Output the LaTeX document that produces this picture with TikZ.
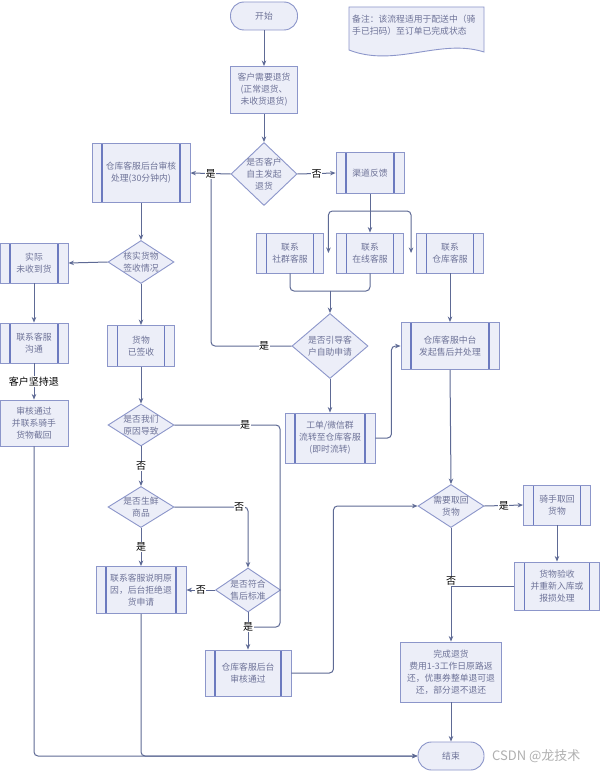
\documentclass[tikz,border=0pt]{standalone}
\usepackage{fontspec}
\setmainfont{Noto Sans CJK SC}
\usetikzlibrary{shapes.geometric,arrows.meta,calc}
\definecolor{fillc}{HTML}{ECEEF8}
\definecolor{borderc}{HTML}{8C96CA}
\definecolor{innerc}{HTML}{6C7ABF}
\definecolor{linec}{HTML}{5E6A95}
\definecolor{txtc}{HTML}{6E7398}
\definecolor{wmc}{HTML}{B0B0B0}
\tikzset{
 x=1pt, y=-1pt,
 base/.style={draw=borderc, fill=fillc, line width=0.9pt, text=txtc, font=\fontsize{8.8}{12}\selectfont, align=center, inner sep=1pt},
 proc/.style 2 args={base, rectangle, minimum width=#1, minimum height=#2},
 subp/.style 2 args={proc={#1}{#2}, path picture={\draw[innerc, line width=1.1pt]
   ([xshift=10pt]path picture bounding box.north west) -- ([xshift=10pt]path picture bounding box.south west)
   ([xshift=-10pt]path picture bounding box.north east) -- ([xshift=-10pt]path picture bounding box.south east);}},
 term/.style 2 args={proc={#1}{#2}, rounded corners=13.5pt},
 dec/.style 2 args={base, diamond, inner sep=0pt, minimum width=#1, minimum height=#2},
 dtext/.style={text=txtc, font=\fontsize{8.8}{12}\selectfont, align=center, inner sep=0pt},
 conn/.style={draw=linec, line width=1pt, rounded corners=4pt},
 arr/.style={conn, -{Stealth[length=5.5pt,width=4.5pt]}},
 lab/.style={fill=white, text=black, font=\fontsize{10}{10}\selectfont, inner sep=0.6pt, rounded corners=0pt},
}
\begin{document}
\begin{tikzpicture}
\fill[white] (0,0) rectangle (600,773);
\useasboundingbox (0,0) rectangle (600,773);

% note
\draw[draw=borderc, fill=fillc, line width=0.9pt] (349,7) -- (484,7) -- (484,52)
  .. controls (440,38) and (395,68) .. (349,50) -- cycle;
\node[anchor=north west, align=left, text=txtc, font=\fontsize{8.8}{12}\selectfont, inner sep=0pt] (note) at (352,15)
  {备注：该流程适用于配送中（骑\\手已扫码）至订单已完成状态};

% nodes
\node[term={67pt}{28pt}] (start) at (264,16) {开始};
\node[proc={67pt}{47pt}] (req) at (264,90) {客户需要退货\\(正常退货、\\未收货退货)};
\node[dec={66pt}{63pt}] (d1) at (264,174) {};
\node[dtext] (d1t) at (d1) {是否客户\\自主发起\\退货};
\node[subp={98pt}{59pt}] (audit) at (141,173) {仓库客服后台审核\\处理(30分钟内)};
\node[subp={68pt}{41pt}] (chan) at (370,173) {渠道反馈};
\node[subp={67pt}{40pt}] (social) at (290,253) {联系\\社群客服};
\node[subp={67pt}{40pt}] (online) at (370,253) {联系\\在线客服};
\node[subp={67pt}{40pt}] (whcs) at (450,253) {联系\\仓库客服};
\node[dec={76pt}{65pt}] (d2) at (330,346) {};
\node[dtext] (d2t) at (d2) {是否引导客\\户自助申请};
\node[subp={90pt}{50pt}] (ticket) at (330,438) {工单/微信群\\流转至仓库客服\\(即时流转)};
\node[subp={98pt}{47pt}] (whmid) at (450,346) {仓库客服中台\\发起售后并处理};
\node[dec={66pt}{43pt}] (d3) at (451,506) {};
\node[dtext] (d3t) at (d3) {需要取回\\货物};
\node[subp={67pt}{40pt}] (rider) at (557,505) {骑手取回\\货物};
\node[subp={85pt}{48pt}] (insp) at (557,586) {货物验收\\并重新入库或\\报损处理};
\node[proc={101pt}{60pt}] (done) at (451,672) {完成退货\\费用1-3工作日原路返\\还，优惠券整单退可退\\还，部分退不退还};
\node[term={66pt}{28pt}] (end) at (451,756) {结束};
\node[dec={66pt}{43pt}] (d4) at (141,262) {};
\node[dtext] (d4t) at (d4) {核实货物\\签收情况};
\node[subp={68pt}{40pt}] (norecv) at (34,263) {实际\\未收到货};
\node[subp={68pt}{40pt}] (contact) at (34,343) {联系客服\\沟通};
\node[proc={68pt}{46pt}] (intercept) at (34,423) {审核通过\\并联系骑手\\货物截回};
\node[subp={67pt}{41pt}] (signed) at (141,346) {货物\\已签收};
\node[dec={66pt}{42pt}] (d5) at (141,425) {};
\node[dtext] (d5t) at (d5) {是否我们\\原因导致};
\node[dec={66pt}{41pt}] (d6) at (141,507) {};
\node[dtext] (d6t) at (d6) {是否生鲜\\商品};
\node[subp={90pt}{47pt}] (reject) at (141,590) {联系客服说明原\\因，后台拒绝退\\货申请};
\node[dec={65pt}{44pt}] (d7) at (248,590) {};
\node[dtext] (d7t) at (d7) {是否符合\\售后标准};
\node[subp={86pt}{46pt}] (pass) at (248,673) {仓库客服后台\\审核通过};

\node[text=wmc, font=\fontsize{13}{13}\selectfont, anchor=west, inner sep=0pt] (wm) at (492,756) {CSDN @龙技术};

% connectors
\coordinate (split) at (370,211);
\coordinate (sarr) at ($(social.east)+(4.5,0)$);
\coordinate (warr) at ($(whcs.west)+(-5,0)$);
\coordinate (merge) at (330,291);
\coordinate (jd1) at (211,173);
\coordinate (jyes) at (248,627);

\draw[arr] (start) -- (req);
\draw[arr] (req) -- (d1);
\draw[conn] (d2.west) -| node[lab,pos=0.17]{是} (jd1);
\draw[arr] (d1.west) -- node[lab]{是} (audit.east);
\draw[arr] (d1.east) -- node[lab]{否} (chan.west);
\draw[arr] (chan.south) -- (online.north);
\draw[arr] (split) -| (sarr);
\draw[arr] (split) -| (warr);
\draw[conn] (social.south) |- (merge);
\draw[conn] (online.south) |- (merge);
\draw[arr] (merge) -- (d2.north);
\draw[arr] (d2.south) -- (ticket.north);
\draw[arr] (ticket.east) -- ++(16,0) |- (whmid.west);
\draw[arr] (whcs.south) -- (whmid.north);
\draw[arr] (whmid.south) -- (d3.north);
\draw[arr] (d3.east) -- node[lab]{是} (rider.west);
\draw[arr] (rider.south) -- (insp.north);
\draw[conn] (insp.west) -- (insp.west -| d3.south);
\draw[arr] (d3.south) -- node[lab,pos=0.47]{否} (done.north);
\draw[arr] (done) -- (end);
\draw[arr] (audit) -- (d4);
\draw[arr] (d4.west) -- (norecv.east);
\draw[arr] (norecv) -- (contact);
\draw[arr] (contact) -- node[lab]{客户坚持退} (intercept);
\draw[arr] (intercept.south) |- (end.west);
\draw[arr] (reject.south) |- (end.west);
\draw[arr] (d4.south) -- (signed.north);
\draw[arr] (signed) -- (d5);
\draw[conn] (d5.east) -- node[lab,pos=0.67]{是} (280,425) |- (jyes);
\draw[arr] (d5.south) -- node[lab]{否} (d6.north);
\draw[arr] (d6.east) -| node[lab,pos=0.44]{否} (d7.north);
\draw[arr] (d6.south) -- node[lab]{是} (reject.north);
\draw[arr] (d7.west) -- node[lab]{否} (reject.east);
\draw[arr] (d7.south) -- node[lab,pos=0.4]{是} (pass.north);
\draw[arr] (pass.east) -- ++(42,0) |- (d3.west);
\end{tikzpicture}
\end{document}
